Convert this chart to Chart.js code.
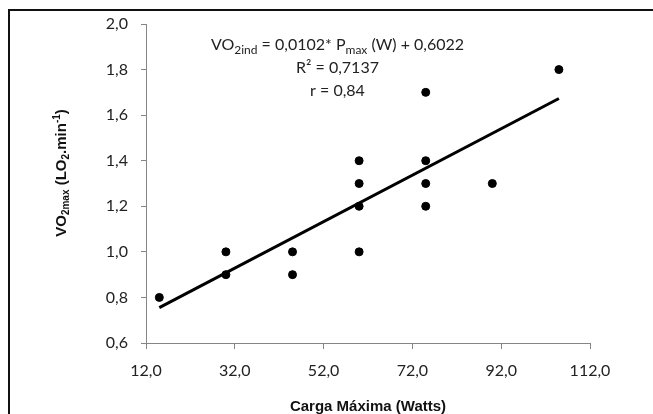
<!DOCTYPE html>
<html>
<head>
<meta charset="utf-8">
<script src="https://cdn.jsdelivr.net/npm/chart.js@4/dist/chart.umd.min.js"></script>
<style>
html,body{margin:0;padding:0;background:#fff;overflow:hidden;}
#wrap{width:653px;height:414px;position:relative;}
</style>
</head>
<body>
<div id="wrap"><canvas id="c" width="653" height="414"></canvas></div>
<script>
// Data
const cargaWatts = [15, 30, 30, 45, 45, 60, 60, 60, 60, 75, 75, 75, 75, 90, 105];
const vo2max     = [0.8, 1.0, 0.9, 1.0, 0.9, 1.4, 1.3, 1.2, 1.0, 1.7, 1.4, 1.3, 1.2, 1.3, 1.8];
const trendX = [15, 105];
const trendY = [0.755, 1.673];
const xTickValues = [12, 32, 52, 72, 92, 112];
const yTickValues = [0.6, 0.8, 1.0, 1.2, 1.4, 1.6, 1.8, 2.0];
const xTitle = "Carga Máxima (Watts)";
const eqLine2 = "R² = 0,7137";
const eqLine3 = "r = 0,84";

const fmt = v => v.toFixed(1).replace('.', ',');

function drawRich(ctx, segs, cx, baseline, align) {
  let total = 0;
  segs.forEach(s => { ctx.font = s.font; s.w = ctx.measureText(s.t).width; total += s.w; });
  let x = align === 'center' ? cx - total / 2 : cx;
  segs.forEach(s => {
    ctx.font = s.font;
    ctx.fillText(s.t, x, baseline + (s.dy || 0));
    x += s.w;
  });
}

const textPlugin = {
  id: 'texts',
  beforeDraw(chart) {
    const ctx = chart.ctx;
    ctx.save();
    ctx.fillStyle = '#fff';
    ctx.fillRect(0, 0, chart.width, chart.height);
    ctx.restore();
  },
  afterDraw(chart) {
    const ctx = chart.ctx;
    ctx.save();
    // outer frame
    ctx.strokeStyle = '#111';
    ctx.lineWidth = 2;
    ctx.strokeRect(9, 10, 800, 600);

    ctx.fillStyle = '#222';
    ctx.textAlign = 'left';
    ctx.textBaseline = 'alphabetic';
    const L = '16px Lato', S = '12px Lato';
    drawRich(ctx, [
      {t: 'VO', font: L},
      {t: '2ind', font: S, dy: 4},
      {t: ' = 0,0102* P', font: L},
      {t: 'max', font: S, dy: 4},
      {t: ' (W) + 0,6022', font: L}
    ], 337.5, 50, 'center');
    drawRich(ctx, [{t: eqLine2, font: L}], 337.5, 73, 'center');
    drawRich(ctx, [{t: eqLine3, font: L}], 337.5, 96, 'center');

    // x title
    ctx.fillStyle = '#111';
    drawRich(ctx, [{t: xTitle, font: 'bold 15px "Liberation Sans"'}], 368, 411, 'center');

    // y title (rotated)
    ctx.translate(66, 173);
    ctx.rotate(-Math.PI / 2);
    const B = 'bold 15px "Liberation Sans"', BS = 'bold 10px "Liberation Sans"';
    drawRich(ctx, [
      {t: 'VO', font: B},
      {t: '2max', font: BS, dy: 3},
      {t: ' (LO', font: B},
      {t: '2', font: BS, dy: 3},
      {t: '.min', font: B},
      {t: '-1', font: BS, dy: -6},
      {t: ')', font: B}
    ], 0, 0, 'center');
    ctx.restore();
  }
};

const axisColor = '#868686';

new Chart(document.getElementById('c'), {
  type: 'scatter',
  data: {
    datasets: [
      {
        label: 'VO2max',
        data: cargaWatts.map((x, i) => ({x: x, y: vo2max[i]})),
        backgroundColor: '#000',
        borderColor: '#000',
        pointRadius: 4,
        pointHoverRadius: 4,
        order: 1
      },
      {
        label: 'Tendência',
        type: 'line',
        data: trendX.map((x, i) => ({x: x, y: trendY[i]})),
        borderColor: '#000',
        borderWidth: 3,
        pointRadius: 0,
        fill: false,
        order: 2
      }
    ]
  },
  options: {
    responsive: false,
    animation: false,
    devicePixelRatio: 1,
    layout: {padding: {left: 0, right: 63, top: 24, bottom: 0}},
    plugins: {legend: {display: false}, tooltip: {enabled: false}},
    scales: {
      x: {
        type: 'linear',
        min: 12, max: 112,
        afterBuildTicks: s => { s.ticks = xTickValues.map(v => ({value: v})); },
        afterFit: s => { s.height = 71; },
        ticks: {
          callback: v => fmt(v),
          font: {family: 'Lato', size: 16},
          color: '#222',
          padding: 12,
          maxRotation: 0,
          autoSkip: false
        },
        grid: {drawOnChartArea: false, drawTicks: true, tickLength: 6, color: axisColor},
        border: {display: true, color: axisColor, width: 1}
      },
      y: {
        type: 'linear',
        min: 0.6, max: 2.0,
        afterBuildTicks: s => { s.ticks = yTickValues.map(v => ({value: v})); },
        afterFit: s => { s.width = 146; },
        ticks: {
          callback: v => fmt(v),
          font: {family: 'Lato', size: 16},
          color: '#222',
          padding: 13,
          autoSkip: false
        },
        grid: {drawOnChartArea: false, drawTicks: true, tickLength: 5, color: axisColor},
        border: {display: true, color: axisColor, width: 1}
      }
    }
  },
  plugins: [textPlugin]
});
</script>
</body>
</html>
